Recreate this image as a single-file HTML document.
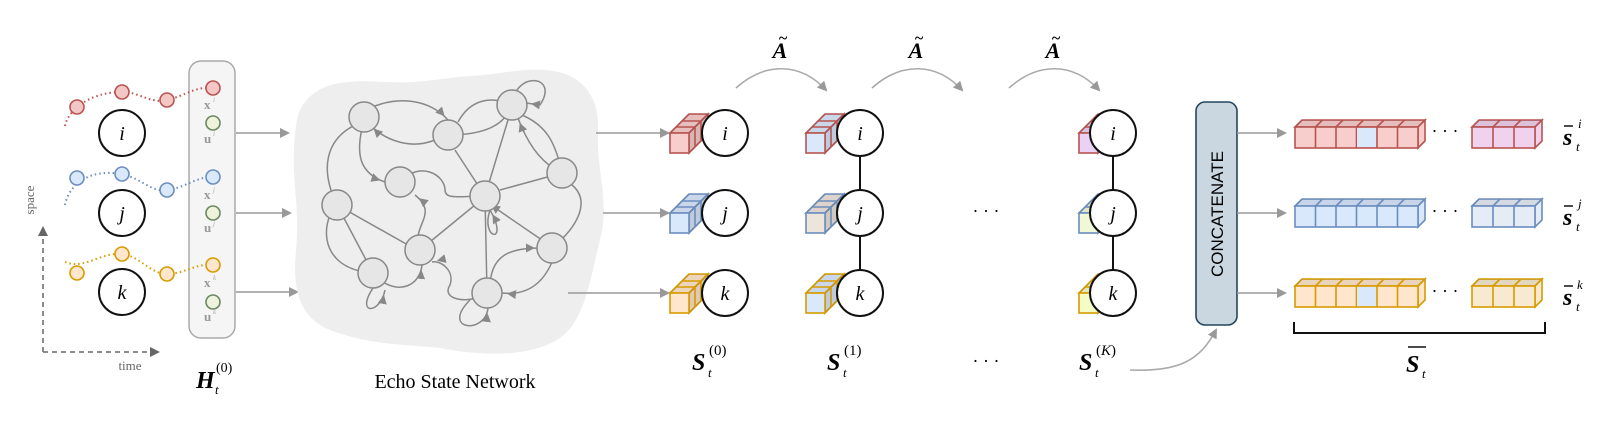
<!DOCTYPE html>
<html><head><meta charset="utf-8"><style>
body{margin:0;background:#fff}
svg{display:block}
.m{font-family:"Liberation Serif",serif;font-style:italic}
.b{font-weight:bold}
</style></head><body>
<svg width="1600" height="421" viewBox="0 0 1600 421" xmlns="http://www.w3.org/2000/svg">
<defs>
<marker id="ar" markerWidth="10" markerHeight="10" refX="8" refY="5" orient="auto" markerUnits="userSpaceOnUse"><path d="M0,0 L10,5 L0,10 z" fill="#999"/></marker>
<marker id="ar2" markerWidth="9" markerHeight="9" refX="14" refY="4.5" orient="auto" markerUnits="userSpaceOnUse"><path d="M0,0 L9,4.5 L0,9 z" fill="#888"/></marker>
<marker id="ard" markerWidth="10" markerHeight="10" refX="8" refY="5" orient="auto" markerUnits="userSpaceOnUse"><path d="M0,0 L10,5 L0,10 z" fill="#666"/></marker>
<g id="cube" stroke-width="1.6">
<polygon points="0,0 19,0 38,-19 19,-19"/>
<polygon points="0,0 19,0 38,-19 19,-19" fill="#000" fill-opacity="0.07" stroke="none"/>
<polygon points="19,0 38,-19 38,1 19,20"/>
<polygon points="19,0 38,-19 38,1 19,20" fill="#000" fill-opacity="0.12" stroke="none"/>
<line x1="6" y1="-6" x2="25" y2="-6"/><line x1="12" y1="-12" x2="31" y2="-12"/>
<line x1="25" y1="-6" x2="25" y2="14"/><line x1="31" y1="-12" x2="31" y2="8"/>
<rect x="0" y="0" width="19" height="20"/>
</g>
<g id="bar6" stroke-width="1.6">
<polygon points="0,0 123,0 130,-7 7,-7"/>
<polygon points="0,0 123,0 130,-7 7,-7" fill="#000" fill-opacity="0.08" stroke="none"/>
<polygon points="123,0 130,-7 130,14 123,21"/>
<rect x="0" y="0" width="123" height="21"/>
<path d="M20.5,0V21M41,0V21M61.5,0V21M82,0V21M102.5,0V21M27.5,-7L20.5,0M48,-7L41,0M68.5,-7L61.5,0M89,-7L82,0M109.5,-7L102.5,0" fill="none"/>
</g>
<g id="bar3" stroke-width="1.6">
<polygon points="0,0 63,0 70,-7 7,-7"/>
<polygon points="0,0 63,0 70,-7 7,-7" fill="#000" fill-opacity="0.08" stroke="none"/>
<polygon points="63,0 70,-7 70,14 63,21"/>
<rect x="0" y="0" width="63" height="21"/>
<path d="M21,0V21M42,0V21M28,-7L21,0M49,-7L42,0" fill="none"/>
</g>
</defs>

<!-- axes -->
<path d="M43,352 V228" stroke="#666" stroke-width="1.5" stroke-dasharray="5,4" fill="none" marker-end="url(#ard)"/>
<path d="M43,352 H158" stroke="#666" stroke-width="1.5" stroke-dasharray="5,4" fill="none" marker-end="url(#ard)"/>
<text x="34" y="200" transform="rotate(-90 34 200)" font-family="Liberation Serif" font-size="13" fill="#666" text-anchor="middle">space</text>
<text x="130" y="370" font-family="Liberation Serif" font-size="13" fill="#666" text-anchor="middle">time</text>

<!-- pill -->
<rect x="189" y="61" width="46" height="277" rx="12" fill="#f5f5f5" stroke="#aaa" stroke-width="1.5"/>

<!-- dotted series -->
<path d="M65,126 C68,110 90,92 122,92 C140,92 150,104 167,100 C185,96 195,86 213,88" stroke="#c0504d" stroke-width="2" stroke-dasharray="1.5,3" fill="none"/>
<path d="M65,205 C68,188 85,168 122,174 C145,180 150,192 167,190 C185,188 195,177 213,177" stroke="#6c8ebf" stroke-width="2" stroke-dasharray="1.5,3" fill="none"/>
<path d="M65,262 C85,270 100,252 122,254 C140,256 150,274 167,274 C185,274 195,263 213,265" stroke="#d79b00" stroke-width="2" stroke-dasharray="1.5,3" fill="none"/>
<g stroke-width="1.6">
<circle cx="77" cy="107" r="7" fill="#f4c7c7" stroke="#b85450"/><circle cx="122" cy="92" r="7" fill="#f4c7c7" stroke="#b85450"/><circle cx="167" cy="100" r="7" fill="#f4c7c7" stroke="#b85450"/><circle cx="213" cy="88" r="7" fill="#f4c7c7" stroke="#b85450"/>
<circle cx="77" cy="178" r="7" fill="#dae8fc" stroke="#6c8ebf"/><circle cx="122" cy="174" r="7" fill="#dae8fc" stroke="#6c8ebf"/><circle cx="167" cy="190" r="7" fill="#dae8fc" stroke="#6c8ebf"/><circle cx="213" cy="177" r="7" fill="#dae8fc" stroke="#6c8ebf"/>
<circle cx="77" cy="273" r="7" fill="#ffe6cc" stroke="#d79b00"/><circle cx="122" cy="254" r="7" fill="#ffe6cc" stroke="#d79b00"/><circle cx="167" cy="274" r="7" fill="#ffe6cc" stroke="#d79b00"/><circle cx="213" cy="265" r="7" fill="#ffe6cc" stroke="#d79b00"/>
<circle cx="213" cy="123" r="7" fill="#eef3dc" stroke="#6d8764"/><circle cx="213" cy="213" r="7" fill="#eef3dc" stroke="#6d8764"/><circle cx="213" cy="302" r="7" fill="#eef3dc" stroke="#6d8764"/>
</g>
<g font-family="Liberation Serif" font-weight="bold" font-size="13" fill="#999">
<text x="204" y="109">x</text><text x="204" y="143">u</text>
<text x="204" y="199">x</text><text x="204" y="232">u</text>
<text x="204" y="287">x</text><text x="204" y="321">u</text>
</g>
<g font-family="Liberation Serif" font-style="italic" font-size="7" fill="#aaa">
<text x="213" y="102">i</text><text x="213" y="136">i</text><text x="213" y="192">j</text><text x="213" y="226">j</text><text x="213" y="280">k</text><text x="213" y="314">k</text>
</g>

<!-- big circles left -->
<g fill="#fff" stroke="#111" stroke-width="2">
<circle cx="122" cy="133" r="23"/><circle cx="122" cy="213" r="23"/><circle cx="122" cy="292" r="23"/>
</g>
<g class="m" font-size="20" text-anchor="middle">
<text x="122" y="140">i</text><text x="122" y="220">j</text><text x="122" y="299">k</text>
</g>
<text x="196" y="388" class="m b" font-size="24">H</text><text x="215" y="394" class="m" font-size="13">t</text><text x="216" y="372" font-family="Liberation Serif" font-size="14">(0)</text>

<!-- arrows pill -> ESN -->
<g stroke="#999" stroke-width="1.5" marker-end="url(#ar)">
<line x1="236" y1="133" x2="288" y2="133"/><line x1="236" y1="213" x2="290" y2="213"/><line x1="236" y1="292" x2="297" y2="292"/>
</g>

<!-- ESN blob -->
<path d="M300,110 C315,80 350,80 385,82 C420,84 440,78 470,76 C505,74 520,68 545,70 C580,72 600,95 598,130 C596,170 610,200 600,240 C590,280 585,320 560,338 C530,358 480,356 440,348 C400,344 370,345 330,330 C300,318 292,290 296,250 C300,210 292,180 294,150 C295,130 296,120 300,110 Z" fill="#eeeeee"/>
<g stroke="#888" stroke-width="1.5" fill="none" marker-end="url(#ar2)">
<path d="M370,108 C400,95 430,100 448,120"/>
<path d="M435,140 C410,150 385,140 370,125"/>
<path d="M458,122 C470,100 490,95 512,105"/>
<path d="M512,105 C505,125 485,135 448,135"/>
<path d="M508,120 L485,196"/>
<path d="M455,150 L485,196"/>
<path d="M364,117 C360,140 350,170 385,182"/>
<path d="M355,125 C325,140 320,170 337,205"/>
<path d="M400,182 C420,160 445,175 445,190 C445,200 460,196 485,196"/>
<path d="M500,190 L562,173"/>
<path d="M562,173 C545,165 530,150 518,118"/>
<path d="M522,115 C545,125 555,140 562,173"/>
<path d="M572,185 C590,200 580,225 552,248"/>
<path d="M475,205 L420,250"/>
<path d="M485,196 L487,293"/>
<path d="M490,210 C480,240 510,245 490,210"/>
<path d="M542,240 C520,225 505,215 487,202"/>
<path d="M420,250 C410,225 440,215 415,195"/>
<path d="M408,245 L337,205"/>
<path d="M337,205 L373,273"/>
<path d="M330,215 C320,240 330,270 373,273"/>
<path d="M380,280 C400,295 420,285 422,265"/>
<path d="M373,288 C355,315 380,315 385,290"/>
<path d="M487,293 C470,305 440,300 450,285 C455,270 440,260 432,262"/>
<path d="M490,288 C490,255 510,248 540,248"/>
<path d="M552,262 C540,290 520,295 502,293"/>
<path d="M470,300 C440,330 485,335 488,308"/>
<path d="M512,105 C515,70 560,75 540,105 L526,103"/>
</g>
<g fill="#e6e6e6" stroke="#888" stroke-width="1.5">
<circle cx="364" cy="117" r="15"/><circle cx="448" cy="135" r="15"/><circle cx="512" cy="105" r="15"/><circle cx="400" cy="182" r="15"/><circle cx="485" cy="196" r="15"/><circle cx="562" cy="173" r="15"/><circle cx="337" cy="205" r="15"/><circle cx="420" cy="250" r="15"/><circle cx="552" cy="248" r="15"/><circle cx="373" cy="273" r="15"/><circle cx="487" cy="293" r="15"/>
</g>
<text x="455" y="388" font-family="Liberation Serif" font-size="20" text-anchor="middle">Echo State Network</text>

<!-- arrows ESN -> S0 -->
<g stroke="#999" stroke-width="1.5" marker-end="url(#ar)">
<line x1="596" y1="133" x2="668" y2="133"/><line x1="603" y1="213" x2="668" y2="213"/><line x1="568" y1="293" x2="668" y2="293"/>
</g>

<!-- A tilde arrows -->
<g stroke="#aaa" stroke-width="1.6" fill="none" marker-end="url(#ar)">
<path d="M736,88 C765,62 800,62 826,90"/>
<path d="M872,88 C901,62 936,62 962,90"/>
<path d="M1009,88 C1038,62 1073,62 1099,90"/>
</g>
<g class="m b" font-size="22" text-anchor="middle">
<text x="780" y="58">A</text><text x="916" y="58">A</text><text x="1053" y="58">A</text>
</g>
<g font-family="Liberation Serif" font-size="16" font-weight="bold" text-anchor="middle">
<text x="783" y="43">~</text><text x="919" y="43">~</text><text x="1056" y="43">~</text>
</g>

<!-- S1 & SK connecting lines -->
<line x1="860" y1="133" x2="860" y2="293" stroke="#111" stroke-width="2"/>
<line x1="1113" y1="133" x2="1113" y2="293" stroke="#111" stroke-width="2"/>

<!-- cubes -->
<use href="#cube" x="670" y="133" fill="#f8cecc" stroke="#b85450"/>
<use href="#cube" x="670" y="213" fill="#dae8fc" stroke="#6c8ebf"/>
<use href="#cube" x="670" y="293" fill="#ffe6cc" stroke="#d79b00"/>
<use href="#cube" x="806" y="133" fill="#dae8fc" stroke="#b85450"/>
<use href="#cube" x="806" y="213" fill="#ede4dc" stroke="#6c8ebf"/>
<use href="#cube" x="806" y="293" fill="#dae8fc" stroke="#d79b00"/>
<use href="#cube" x="1079" y="133" fill="#ead2f5" stroke="#b85450"/>
<use href="#cube" x="1079" y="213" fill="#f1f8d8" stroke="#6c8ebf"/>
<use href="#cube" x="1079" y="293" fill="#f4fcc8" stroke="#d79b00"/>

<g fill="#fff" stroke="#111" stroke-width="2">
<circle cx="725" cy="133" r="23"/><circle cx="725" cy="213" r="23"/><circle cx="725" cy="293" r="23"/>
<circle cx="860" cy="133" r="23"/><circle cx="860" cy="213" r="23"/><circle cx="860" cy="293" r="23"/>
<circle cx="1113" cy="133" r="23"/><circle cx="1113" cy="213" r="23"/><circle cx="1113" cy="293" r="23"/>
</g>
<g class="m" font-size="20" text-anchor="middle">
<text x="725" y="140">i</text><text x="725" y="220">j</text><text x="725" y="300">k</text>
<text x="860" y="140">i</text><text x="860" y="220">j</text><text x="860" y="300">k</text>
<text x="1113" y="140">i</text><text x="1113" y="220">j</text><text x="1113" y="300">k</text>
</g>
<g font-family="Liberation Serif" font-size="18" text-anchor="middle">
<text x="986" y="217">· · ·</text><text x="986" y="367">· · ·</text>
</g>

<!-- S labels -->
<g class="m b" font-size="24">
<text x="692" y="370">S</text><text x="827" y="370">S</text><text x="1079" y="370">S</text>
</g>
<g class="m" font-size="13"><text x="708" y="377">t</text><text x="843" y="377">t</text><text x="1095" y="377">t</text></g>
<g font-family="Liberation Serif" font-size="15">
<text x="709" y="355">(0)</text><text x="844" y="355">(1)</text><text x="1096" y="355">(<tspan font-style="italic">K</tspan>)</text>
</g>

<!-- curve to concatenate -->
<path d="M1130,370 C1180,372 1200,360 1216,330" stroke="#aaa" stroke-width="1.6" fill="none" marker-end="url(#ar)"/>

<!-- concatenate -->
<rect x="1196" y="102" width="41" height="223" rx="9" fill="#cbd7e0" stroke="#23465e" stroke-width="1.6"/>
<text x="1223" y="214" transform="rotate(-90 1223 214)" font-family="Liberation Sans" font-size="17" text-anchor="middle">CONCATENATE</text>

<g stroke="#999" stroke-width="1.5" marker-end="url(#ar)">
<line x1="1237" y1="133" x2="1285" y2="133"/><line x1="1237" y1="213" x2="1285" y2="213"/><line x1="1237" y1="293" x2="1285" y2="293"/>
</g>

<use href="#bar6" x="1295" y="127" fill="#f8cecc" stroke="#b85450"/>
<use href="#bar6" x="1295" y="206" fill="#dae8fc" stroke="#6c8ebf"/>
<use href="#bar6" x="1295" y="286" fill="#ffe6cc" stroke="#d79b00"/>
<rect x="1357" y="128" width="19" height="19" fill="#dae8fc"/>
<rect x="1357" y="287" width="19" height="19" fill="#dae8fc"/>
<use href="#bar3" x="1472" y="127" fill="#f0d2ee" stroke="#b85450"/>
<use href="#bar3" x="1472" y="206" fill="#e6ecf6" stroke="#6c8ebf"/>
<use href="#bar3" x="1472" y="286" fill="#f8ead0" stroke="#d79b00"/>
<g font-family="Liberation Serif" font-size="18" text-anchor="middle">
<text x="1445" y="137">· · ·</text><text x="1445" y="217">· · ·</text><text x="1445" y="297">· · ·</text>
</g>

<g class="m b" font-size="24"><text x="1563" y="145">s</text><text x="1563" y="225">s</text><text x="1563" y="305">s</text></g>
<g stroke="#111" stroke-width="1.5"><line x1="1564" y1="126" x2="1573" y2="126"/><line x1="1564" y1="206" x2="1573" y2="206"/><line x1="1564" y1="286" x2="1573" y2="286"/></g>
<g class="m" font-size="13"><text x="1576" y="151">t</text><text x="1576" y="231">t</text><text x="1576" y="311">t</text>
<text x="1578" y="128">i</text><text x="1578" y="208">j</text><text x="1577" y="289">k</text></g>

<path d="M1294,322 V333 H1545 V322" stroke="#111" stroke-width="2" fill="none"/>
<line x1="1408" y1="347" x2="1426" y2="347" stroke="#111" stroke-width="1.5"/>
<text x="1406" y="372" class="m b" font-size="24">S</text><text x="1422" y="378" class="m" font-size="13">t</text>
</svg>
</body></html>
